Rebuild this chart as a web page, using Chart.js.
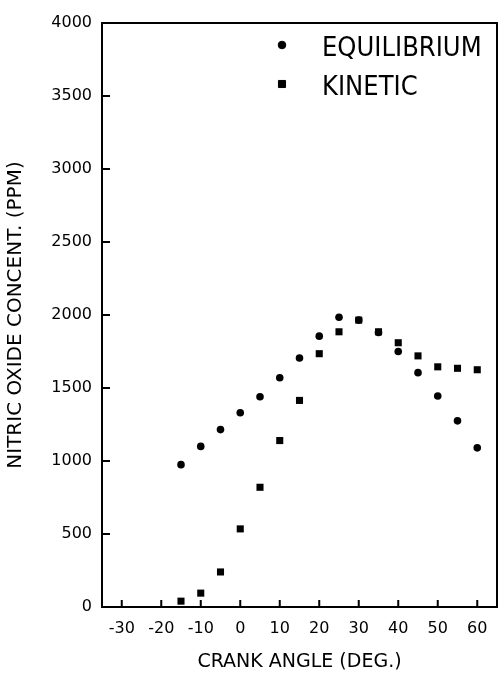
<!DOCTYPE html>
<html>
<head>
<meta charset="utf-8">
<script src="https://cdn.jsdelivr.net/npm/chart.js@4.4.0/dist/chart.umd.min.js"></script>
<style>
  html, body { margin: 0; padding: 0; background: #fff; }
  #wrap { width: 503px; height: 677px; }
</style>
</head>
<body>
<div id="wrap"><canvas id="chart" width="503" height="677"></canvas></div>
<script>
// crank angle (deg) for each measured point
var angles = [-15, -10, -5, 0, 5, 10, 15, 20, 25, 30, 35, 40, 45, 50, 55, 60];
// nitric oxide concentration (ppm)
var equilibrium = [975, 1100, 1215, 1330, 1440, 1570, 1705, 1855, 1985, 1965, 1880, 1750, 1605, 1445, 1275, 1090];
var kinetic = [40, 95, 240, 535, 820, 1140, 1415, 1735, 1885, 1965, 1885, 1810, 1720, 1645, 1635, 1625];

var xTicks = [-30, -20, -10, 0, 10, 20, 30, 40, 50, 60];
var yTicks = [0, 500, 1000, 1500, 2000, 2500, 3000, 3500, 4000];

var FONT = "'DejaVu Sans', 'Liberation Sans', sans-serif";

function pts(xs, ys) {
    return xs.map(function (x, i) { return { x: x, y: ys[i] }; });
}

// frame + inward tick marks
var framePlugin = {
    id: 'frame',
    afterDatasetsDraw: function (chart) {
        var ctx = chart.ctx, a = chart.chartArea;
        var xs = chart.scales.x, ys = chart.scales.y;
        ctx.save();
        ctx.strokeStyle = '#000';
        ctx.lineWidth = 2;
        ctx.strokeRect(a.left, a.top, a.right - a.left, a.bottom - a.top);
        ctx.beginPath();
        xTicks.forEach(function (v) {
            var px = xs.getPixelForValue(v);
            ctx.moveTo(px, a.bottom);
            ctx.lineTo(px, a.bottom - 7);
        });
        yTicks.forEach(function (v) {
            var py = ys.getPixelForValue(v);
            ctx.moveTo(a.left, py);
            ctx.lineTo(a.left + 8, py);
        });
        ctx.stroke();
        ctx.restore();
    }
};

// legend drawn inside the plot, top right (equilibrium listed first)
var legendPlugin = {
    id: 'insideLegend',
    afterDraw: function (chart) {
        var ctx = chart.ctx, a = chart.chartArea;
        var list = chart.data.datasets.slice().reverse();
        ctx.save();
        list.forEach(function (ds, i) {
            var my = a.top + 22 + i * 39;
            var mx = a.left + 180;
            ctx.fillStyle = '#000';
            ctx.strokeStyle = '#000';
            ctx.lineWidth = 1;
            Chart.helpers.drawPoint(ctx, {
                pointStyle: ds.pointStyle,
                radius: ds.pointRadius,
                borderWidth: 1
            }, mx, my);
            ctx.save();
            ctx.translate(mx + 40, my + 11);
            ctx.scale(0.9, 1);
            ctx.font = '27px ' + FONT;
            ctx.textBaseline = 'alphabetic';
            ctx.fillText(ds.label, 0, 0);
            ctx.restore();
        });
        ctx.restore();
    }
};

var ctx = document.getElementById('chart').getContext('2d');
var chart = new Chart(ctx, {
    type: 'scatter',
    data: {
        datasets: [{
            label: 'KINETIC',
            data: pts(angles, kinetic),
            pointStyle: 'rect',
            pointRadius: 5,
            backgroundColor: '#000',
            borderColor: '#000',
            borderWidth: 0
        }, {
            label: 'EQUILIBRIUM',
            data: pts(angles, equilibrium),
            pointStyle: 'circle',
            pointRadius: 3.8,
            backgroundColor: '#000',
            borderColor: '#000',
            borderWidth: 0
        }]
    },
    options: {
        responsive: false,
        animation: false,
        layout: { padding: { top: 23, right: 6, left: 0, bottom: 0 } },
        plugins: {
            legend: { display: false },
            tooltip: { enabled: false }
        },
        scales: {
            x: {
                type: 'linear',
                min: -35,
                max: 65,
                afterBuildTicks: function (scale) {
                    scale.ticks = xTicks.map(function (v) { return { value: v }; });
                },
                afterFit: function (scale) { scale.height = 70; },
                grid: { display: false, drawTicks: false },
                border: { display: false },
                ticks: {
                    color: '#000',
                    padding: 12,
                    maxRotation: 0,
                    font: { family: FONT, size: 16 },
                    callback: function (v) { return String(v); }
                },
                title: {
                    display: true,
                    text: 'CRANK ANGLE (DEG.)',
                    color: '#000',
                    padding: { top: 10 },
                    font: { family: FONT, size: 19 }
                }
            },
            y: {
                type: 'linear',
                min: 0,
                max: 4000,
                afterBuildTicks: function (scale) {
                    scale.ticks = yTicks.map(function (v) { return { value: v }; });
                },
                afterFit: function (scale) { scale.width = 102; },
                grid: { display: false, drawTicks: false },
                border: { display: false },
                ticks: {
                    color: '#000',
                    padding: 10,
                    font: { family: FONT, size: 16 },
                    callback: function (v) { return String(v); }
                },
                title: {
                    display: true,
                    text: 'NITRIC OXIDE CONCENT. (PPM)',
                    color: '#000',
                    padding: { bottom: 0 },
                    font: { family: FONT, size: 20 }
                }
            }
        }
    },
    plugins: [framePlugin, legendPlugin]
});
</script>
</body>
</html>
